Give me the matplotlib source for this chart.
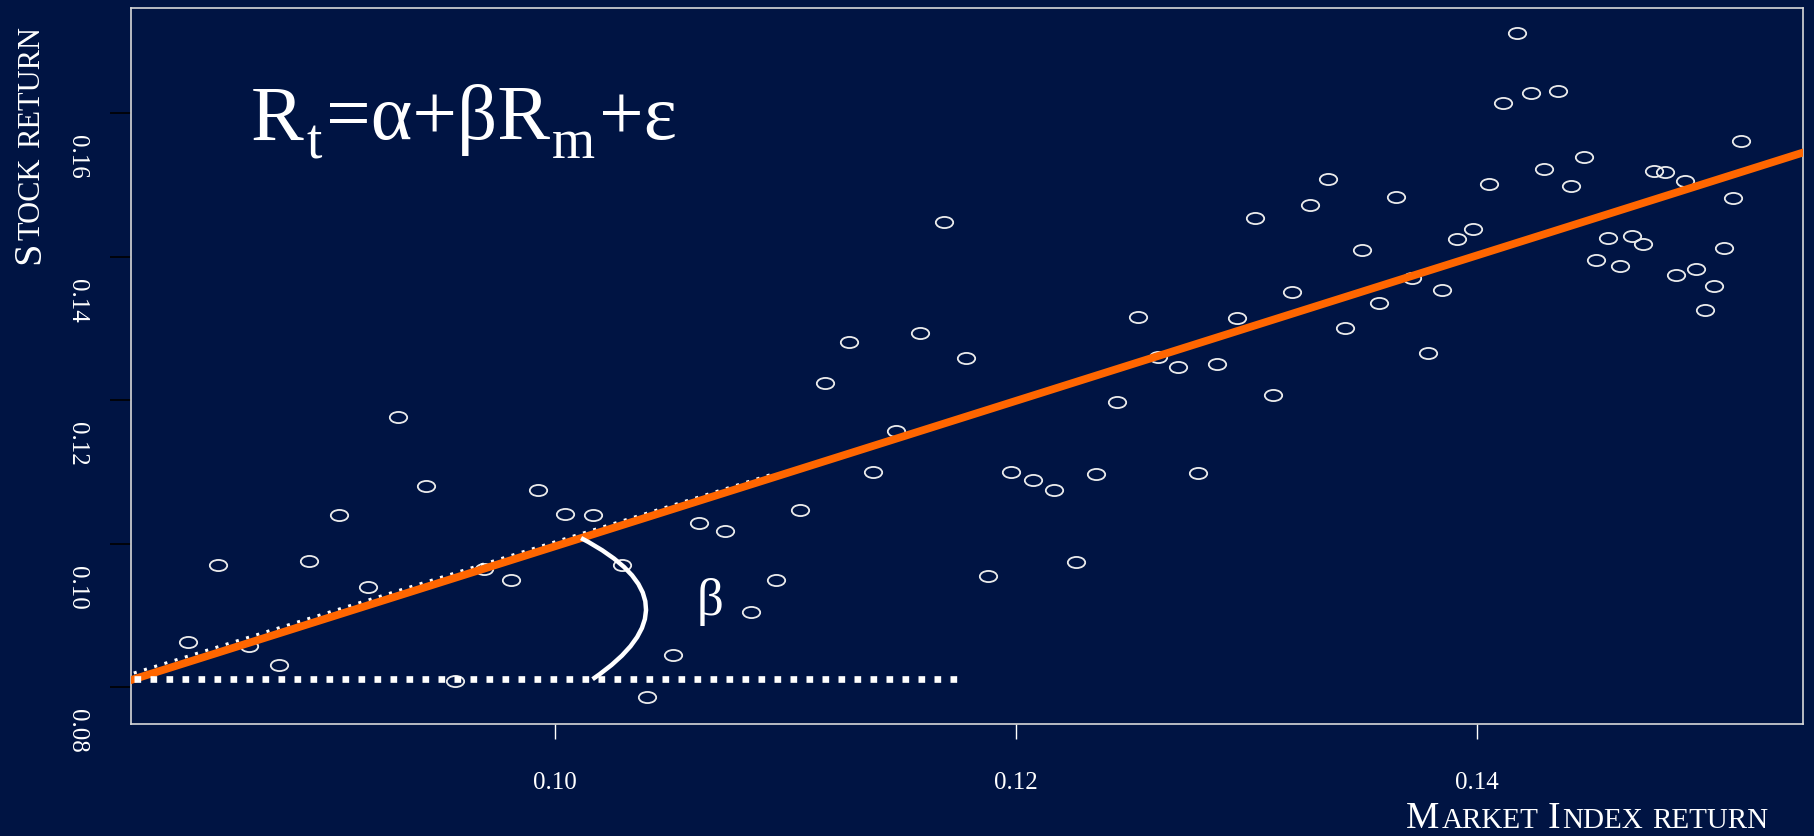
import matplotlib
matplotlib.use("Agg")
import matplotlib.pyplot as plt
import matplotlib.transforms as mtransforms
from matplotlib.path import Path
from matplotlib.patches import PathPatch
from matplotlib.markers import MarkerStyle

# ---------------- data ----------------
market_return = [0.08405, 0.08534, 0.08672, 0.08801, 0.08931, 0.09062, 0.09188, 0.09318, 0.09437, 0.09565,
                 0.09692, 0.09809, 0.09926, 0.10042, 0.10165, 0.10288, 0.10397, 0.10511, 0.10624, 0.10738,
                 0.10848, 0.10957, 0.11062, 0.11171, 0.11275, 0.11378, 0.11480, 0.11582, 0.11686, 0.11783,
                 0.11878, 0.11978, 0.12072, 0.12166, 0.12262, 0.12349, 0.12438, 0.12531, 0.12618, 0.12705,
                 0.12791, 0.12871, 0.12958, 0.13039, 0.13114, 0.13197, 0.13276, 0.13354, 0.13428, 0.13501,
                 0.13575, 0.13650, 0.13718, 0.13787, 0.13851, 0.13917, 0.13984, 0.14052, 0.14113, 0.14174,
                 0.14237, 0.14293, 0.14352, 0.14408, 0.14465, 0.14518, 0.14569, 0.14623, 0.14673, 0.14721,
                 0.14771, 0.14817, 0.14865, 0.14906, 0.14952, 0.14991, 0.15032, 0.15072, 0.15111, 0.15146]
stock_return = [0.08629, 0.09702, 0.08581, 0.08316, 0.09766, 0.10407, 0.09404, 0.11773, 0.10803, 0.08093,
                0.09650, 0.09501, 0.10747, 0.10410, 0.10399, 0.09710, 0.07866, 0.08447, 0.10291, 0.10180,
                0.09047, 0.09497, 0.10468, 0.12243, 0.12810, 0.10998, 0.11569, 0.12939, 0.14482, 0.12591,
                0.09548, 0.10998, 0.10895, 0.10755, 0.09748, 0.10974, 0.11974, 0.13158, 0.12601, 0.12461,
                0.10988, 0.12514, 0.13144, 0.14542, 0.12075, 0.13507, 0.14719, 0.15086, 0.13013, 0.14092,
                0.13358, 0.14839, 0.13702, 0.12657, 0.13535, 0.14250, 0.14389, 0.15016, 0.16141, 0.17121,
                0.16280, 0.15229, 0.16316, 0.14984, 0.15392, 0.13957, 0.14263, 0.13877, 0.14295, 0.14176,
                0.15193, 0.15187, 0.13752, 0.15054, 0.13827, 0.13260, 0.13599, 0.14124, 0.14821, 0.15611]

alpha_hat = -0.0016          # fitted intercept
beta_hat = 1.0128            # fitted slope
ref_alpha = 0.0003           # white dotted guide line
ref_beta = 1.0
ref_x_range = [0.0817, 0.1095]
flat_x_range = [0.0817, 0.1175]

x_ticks = [0.10, 0.12, 0.14]
x_tick_labels = ["0.10", "0.12", "0.14"]
y_ticks = [0.08, 0.10, 0.12, 0.14, 0.16]
y_tick_labels = ["0.08", "0.10", "0.12", "0.14", "0.16"]

# ---------------- style ----------------
BG = "#001443"
ORANGE = "#ff6600"
WHITE = "#ffffff"
SERIF = "Liberation Serif"
W, H = 1814, 837

fig = plt.figure(figsize=(W / 100, H / 100), dpi=100, facecolor=BG)
ax = fig.add_axes([131 / W, (H - 725) / H, 1672 / W, 716 / H], facecolor=BG)
ax.set_xlim(0.08158, 0.15417)
ax.set_ylim(0.07490, 0.17469)

# scatter with elliptical hollow markers
ell = Path.unit_circle().transformed(mtransforms.Affine2D().scale(1.56, 1.0))
ax.plot(market_return, stock_return, linestyle="none", marker=MarkerStyle(ell),
        markersize=12.5, markerfacecolor="none", markeredgecolor="#ececec",
        markeredgewidth=1.3, zorder=2)

# white dotted guide line under the regression line
rx = ref_x_range
ax.plot(rx, [ref_alpha + ref_beta * v for v in rx], color=WHITE, lw=2.2,
        linestyle=(0, (1.0, 2.5)), zorder=3)

# regression line
lx = [0.0810, 0.1550]
ax.plot(lx, [alpha_hat + beta_hat * v for v in lx], color=ORANGE, lw=5.6,
        solid_capstyle="butt", zorder=4)

# horizontal dotted line from the line's start
y_flat = alpha_hat + beta_hat * flat_x_range[0]
ax.plot(flat_x_range, [y_flat, y_flat], color=WHITE, lw=4.8,
        linestyle=(0, (1.0, 1.4)), zorder=5)

# beta arc
x_a0 = 0.10112
p0 = (x_a0, alpha_hat + beta_hat * x_a0)
p1 = (0.10650, 0.09180)
p2 = (0.10162, y_flat)
arc = PathPatch(Path([p0, p1, p2], [Path.MOVETO, Path.CURVE3, Path.CURVE3]),
                facecolor="none", edgecolor=WHITE, lw=3.2, zorder=6)
ax.add_patch(arc)
ax.text(0.10672, 0.0920, "β", color=WHITE, fontsize=38, family=SERIF,
        ha="center", va="center", zorder=6)

# spines
for s in ax.spines.values():
    s.set_color("#d8d8d8")
    s.set_linewidth(1.2)

# ticks
ax.set_xticks(x_ticks, x_tick_labels)
ax.set_yticks(y_ticks, y_tick_labels)
ax.tick_params(axis="x", colors=WHITE, length=11, width=1.0, pad=23,
               labelsize=18, direction="out")
ax.tick_params(axis="y", colors="black", length=15, width=1.2, pad=24,
               labelsize=18, direction="out", labelcolor=WHITE)
for lab in ax.get_xticklabels() + ax.get_yticklabels():
    lab.set_family(SERIF)
shift = mtransforms.ScaledTranslation(0, -0.21, fig.dpi_scale_trans)
for lab in ax.get_yticklabels():
    lab.set_rotation(-90)
    lab.set_ha("center")
    lab.set_va("top")
    lab.set_transform(lab.get_transform() + shift)

# ---------------- composed texts ----------------
renderer = fig.canvas.get_renderer()


def width_px(s, size):
    t = fig.text(0, 0, s, fontsize=size, family=SERIF)
    w = t.get_window_extent(renderer).width
    t.remove()
    return w


def place_row(pieces, x0, y0, rotation=0):
    """pieces: (text, size, dy, gap_after). x0,y0 in pixels from bottom-left."""
    pos = 0.0
    for s, size, dy, gap in pieces:
        if s:
            if rotation == 0:
                px, py = x0 + pos, y0 + dy
            else:
                px, py = x0 - dy, y0 + pos
            fig.text(px / W, py / H, s, fontsize=size, family=SERIF, color=WHITE,
                     rotation=rotation, rotation_mode="anchor",
                     ha="left", va="baseline")
            pos += width_px(s, size)
        pos += gap
    return pos


def row_length(pieces):
    return sum((width_px(s, size) if s else 0) + gap for s, size, dy, gap in pieces)


# equation
eq = [("R", 57, 0, 3), ("t", 40, -19, 4), ("=α+βR", 57, 0, 2), ("m", 40, -19, 4), ("+ε", 57, 0, 0)]
place_row(eq, 251, H - 139.5)

# x label in small caps
xl = [("M", 27, 0, 2), ("ARKET", 21, 0, 9), ("I", 27, 0, 2), ("NDEX", 21, 0, 9), ("RETURN", 21, 0, 0)]
L = row_length(xl)
place_row(xl, 1768 - L, 9)

# y label in small caps (rotated)
yl = [("S", 29, 0, 2), ("TOCK", 22, 0, 9), ("RETURN", 22, 0, 0)]
place_row(yl, 39, H - 264, rotation=90)

fig.savefig("out.png", dpi=100, facecolor=BG)
